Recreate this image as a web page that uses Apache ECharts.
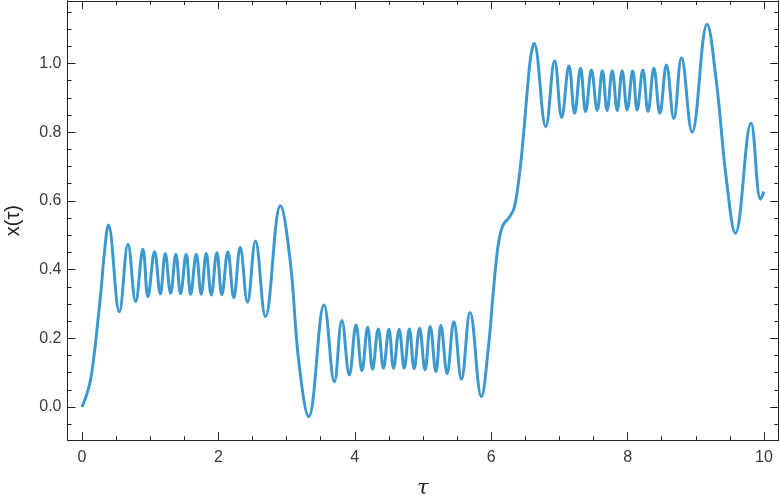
<!DOCTYPE html>
<html>
<head>
<meta charset="utf-8">
<script src="https://cdn.jsdelivr.net/npm/echarts@6/dist/echarts.min.js"></script>
<style>
  html, body { margin: 0; padding: 0; background: #fff; }
  #main { width: 780px; height: 504px; }
</style>
</head>
<body>
<div id="main"></div>
<script>
// values (peaks, troughs and a few points on the steep parts)
var tau = [
  0, 0.11, 0.186, 0.234, 0.284, 0.322, 0.387, 0.547, 0.674, 0.786,
  0.893, 0.966, 1.064, 1.148, 1.221, 1.299, 1.376, 1.445, 1.528, 1.592,
  1.675, 1.748, 1.821, 1.895, 1.977, 2.05, 2.138, 2.225, 2.319, 2.426,
  2.543, 2.69, 2.909, 3.05, 3.18, 3.324, 3.549, 3.70, 3.81, 3.92,
  4.018, 4.105, 4.188, 4.26, 4.344, 4.42, 4.50, 4.568, 4.65, 4.725,
  4.80, 4.87, 4.95, 5.03, 5.105, 5.19, 5.262, 5.354, 5.452, 5.564,
  5.69, 5.856, 5.96, 6.02, 6.07, 6.115, 6.174, 6.26, 6.335, 6.41,
  6.467, 6.53, 6.58, 6.628, 6.80, 6.93, 7.034, 7.14, 7.224, 7.31,
  7.385, 7.47, 7.555, 7.63, 7.70, 7.775, 7.848, 7.92, 7.994, 8.075,
  8.14, 8.224, 8.30, 8.385, 8.473, 8.57, 8.678, 8.79, 8.946, 9.166,
  9.30, 9.45, 9.58, 9.81, 9.95, 10.0
];
var xval = [
  0, 0.065, 0.166, 0.253, 0.35, 0.437, 0.530, 0.277, 0.474, 0.307,
  0.459, 0.321, 0.452, 0.329, 0.447, 0.331, 0.445, 0.330, 0.445, 0.328,
  0.445, 0.328, 0.447, 0.326, 0.449, 0.327, 0.452, 0.318, 0.464, 0.305,
  0.483, 0.263, 0.586, 0.43, 0.13, -0.028, 0.297, 0.073, 0.252, 0.093,
  0.239, 0.106, 0.232, 0.110, 0.227, 0.113, 0.226, 0.113, 0.226, 0.113,
  0.227, 0.111, 0.229, 0.108, 0.234, 0.103, 0.237, 0.097, 0.248, 0.081,
  0.275, 0.030, 0.176, 0.311, 0.418, 0.486, 0.53, 0.551, 0.578, 0.67,
  0.777, 0.923, 1.02, 1.059, 0.816, 1.008, 0.843, 0.993, 0.855, 0.986,
  0.86, 0.981, 0.863, 0.979, 0.863, 0.979, 0.863, 0.979, 0.865, 0.978,
  0.865, 0.981, 0.86, 0.986, 0.855, 0.996, 0.84, 1.017, 0.80, 1.114,
  0.95, 0.66, 0.506, 0.826, 0.605, 0.627
];

var xMajor = [0, 2, 4, 6, 8, 10];
var xMinor = [0.5, 1, 1.5, 2.5, 3, 3.5, 4.5, 5, 5.5, 6.5, 7, 7.5, 8.5, 9, 9.5];
var yMajor = [0, 0.2, 0.4, 0.6, 0.8, 1.0];
var yMinor = [-0.05, 0.05, 0.1, 0.15, 0.25, 0.3, 0.35, 0.45, 0.5, 0.55, 0.65, 0.7, 0.75, 0.85, 0.9, 0.95, 1.05, 1.1, 1.15];

var points = tau.map(function (t, i) { return [t, xval[i]]; });

var frameColor = '#222';
var labelColor = '#3a3a3a';
var xMin = -0.213, xMax = 10.21;
var yMin = -0.097, yMax = 1.182;

function xAx(pos, ticks, len, showLabel, name) {
    return {
        type: 'value', position: pos, min: xMin, max: xMax,
        splitLine: { show: false },
        axisLine: { show: true, onZero: false, lineStyle: { color: frameColor, width: 1 } },
        axisTick: { show: true, inside: true, length: len, customValues: ticks, lineStyle: { color: frameColor } },
        axisLabel: {
            show: showLabel, customValues: ticks, color: labelColor, fontSize: 16,
            fontFamily: 'Liberation Sans', margin: 9,
            formatter: function (v) { return String(v); }
        },
        name: name || '', nameLocation: 'middle', nameGap: 38,
        nameTextStyle: { fontSize: 21, fontStyle: 'italic', color: '#222', fontFamily: 'DejaVu Serif' }
    };
}
function yAx(pos, ticks, len, showLabel, name) {
    return {
        type: 'value', position: pos, min: yMin, max: yMax,
        splitLine: { show: false },
        axisLine: { show: true, onZero: false, lineStyle: { color: frameColor, width: 1 } },
        axisTick: { show: true, inside: true, length: len, customValues: ticks, lineStyle: { color: frameColor } },
        axisLabel: {
            show: showLabel, customValues: ticks, color: labelColor, fontSize: 16,
            fontFamily: 'Liberation Sans', margin: 6,
            formatter: function (v) { return v.toFixed(1); }
        },
        name: name || '', nameLocation: 'middle', nameGap: 44, nameRotate: 90,
        nameTextStyle: { fontSize: 20, color: '#222', fontFamily: 'Liberation Sans' }
    };
}

var option = {
    animation: false,
    grid: { left: 67.5, right: 1.7, top: 1, bottom: 63.7, containLabel: false, outerBoundsMode: 'none' },
    xAxis: [
        xAx('bottom', xMajor, 8, true, 'τ'),
        xAx('bottom', xMinor, 4, false),
        xAx('top', xMajor, 8, false),
        xAx('top', xMinor, 4, false)
    ],
    yAxis: [
        yAx('left', yMajor, 8, true, 'x(τ)'),
        yAx('left', yMinor, 4, false),
        yAx('right', yMajor, 8, false),
        yAx('right', yMinor, 4, false)
    ],
    series: [{
        type: 'line',
        data: points,
        smooth: 0.4,
        showSymbol: false,
        lineStyle: { color: '#3c99d0', width: 3 },
        xAxisIndex: 0,
        yAxisIndex: 0
    }]
};

var chart = echarts.init(document.getElementById('main'));
chart.setOption(option);
</script>
</body>
</html>
